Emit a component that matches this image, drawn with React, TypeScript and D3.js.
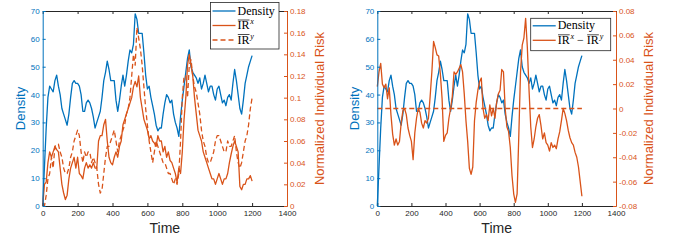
import React, { useEffect, useRef } from 'react';
import * as d3 from 'd3';

// sample times (every 10 steps)
const time = d3.range(0, 1201, 10);

const density = [
  0, 14, 28, 39, 43, 42, 41, 45, 47, 43,
  40, 35, 33, 31, 29, 33, 39, 44, 45, 44,
  44, 43, 40, 34, 34, 37, 38, 37, 35, 32,
  28, 30, 32, 34, 39, 45, 48, 52, 49, 45,
  45, 45, 38, 34, 38, 43, 47, 43, 47, 52,
  56, 55, 58, 69, 67, 62, 62, 62, 55, 47,
  42, 43, 39, 36, 33, 29, 27, 28, 28, 33,
  37, 40, 39, 37, 38, 33, 30, 28, 25, 32,
  38, 43, 48, 53, 56, 50, 48, 47, 46, 44,
  46, 42, 44, 47, 44, 41, 43, 43, 40, 38,
  42, 43, 40, 37, 38, 36, 39, 40, 38, 44,
  49, 45, 40, 35, 33, 38, 44, 47, 50, 52,
  54,
];

const irX = [
  0, 0.02, 0.022, 0.04, 0.05, 0.045, 0.05, 0.055, 0.052, 0.05,
  0.035, 0.02, 0.012, 0.006, 0.01, 0.025, 0.035, 0.04, 0.045, 0.035,
  0.045, 0.03, 0.028, 0.025, 0.035, 0.04, 0.035, 0.038, 0.035, 0.04,
  0.035, 0.035, 0.06, 0.065, 0.065, 0.075, 0.08, 0.06, 0.045, 0.04,
  0.038, 0.045, 0.05, 0.045, 0.055, 0.06, 0.075, 0.08, 0.085, 0.09,
  0.095, 0.1, 0.11, 0.115, 0.11, 0.12, 0.1, 0.09, 0.08, 0.075,
  0.07, 0.062, 0.065, 0.06, 0.058, 0.055, 0.065, 0.06, 0.06, 0.05,
  0.055, 0.045, 0.05, 0.042, 0.04, 0.035, 0.03, 0.022, 0.035, 0.03,
  0.05, 0.08, 0.1, 0.13, 0.14, 0.13, 0.12, 0.1, 0.085, 0.07,
  0.065, 0.06, 0.05, 0.045, 0.04, 0.035, 0.03, 0.025, 0.025, 0.02,
  0.025, 0.03, 0.025, 0.02, 0.025, 0.025, 0.03, 0.04, 0.048, 0.055,
  0.06, 0.055, 0.05, 0.018, 0.015, 0.02, 0.02, 0.025, 0.025, 0.028,
  0.023,
];

const irY = [
  0, 0, 0.01, 0.025, 0.03, 0.045, 0.035, 0.055, 0.057, 0.057,
  0.05, 0.045, 0.035, 0.03, 0.03, 0.035, 0.045, 0.05, 0.06, 0.065,
  0.07, 0.065, 0.05, 0.04, 0.05, 0.045, 0.05, 0.05, 0.04, 0.045,
  0.04, 0.035, 0.02, 0.012, 0.015, 0.03, 0.045, 0.055, 0.055, 0.06,
  0.065, 0.07, 0.06, 0.05, 0.06, 0.065, 0.07, 0.075, 0.085, 0.09,
  0.1, 0.12, 0.14, 0.13, 0.165, 0.155, 0.145, 0.13, 0.11, 0.09,
  0.075, 0.06, 0.05, 0.04, 0.05, 0.06, 0.055, 0.05, 0.045, 0.04,
  0.04, 0.035, 0.03, 0.03, 0.025, 0.02, 0.025, 0.02, 0.03, 0.06,
  0.1, 0.12, 0.12, 0.1, 0.13, 0.135, 0.12, 0.11, 0.105, 0.095,
  0.085, 0.07, 0.06, 0.055, 0.045, 0.04, 0.04, 0.045, 0.05, 0.06,
  0.065, 0.065, 0.06, 0.055, 0.05, 0.05, 0.06, 0.055, 0.055, 0.06,
  0.065, 0.05, 0.04, 0.035, 0.04, 0.05, 0.06, 0.065, 0.075, 0.09,
  0.1,
];

const irDiff = [
  0.018, 0.03, 0.037, 0.02, 0.017, 0.02, 0.008, 0.017, -0.005, -0.021,
  -0.03, -0.025, -0.03, -0.027, -0.012, -0.002, 0, -0.005, -0.016, -0.022,
  -0.027, -0.042, -0.02, -0.008, 0, -0.003, -0.012, -0.016, -0.01, -0.012,
  -0.008, 0.01, 0.03, 0.055, 0.05, 0.044, 0.043, 0.028, 0.008, -0.027,
  -0.022, -0.02, -0.008, 0, 0.01, 0.03, 0.028, 0.03, 0.033, 0.036,
  0.03, 0.012, -0.01, -0.027, -0.049, -0.054, -0.048, -0.01, 0.005, 0.015,
  0.022, 0.025, 0, -0.008, -0.005, -0.01, 0.003, -0.006, 0, -0.008,
  0.005, 0.012, 0.015, 0.032, 0.03, 0, -0.015, -0.019, -0.032, -0.055,
  -0.07, -0.077, -0.07, -0.022, 0.03, 0.052, 0.058, 0.074, 0.05, 0.015,
  -0.015, -0.032, -0.025, -0.015, -0.008, -0.005, -0.014, -0.025, -0.02, -0.028,
  -0.03, -0.035, -0.028, -0.032, -0.03, -0.033, -0.025, -0.019, -0.01, 0,
  -0.004, -0.01, -0.018, -0.024, -0.028, -0.03, -0.036, -0.04, -0.048, -0.06,
  -0.072,
];

const zeroLine = [0, 0];
const zeroTimes = [0, 1200];

const xTicks = [0, 200, 400, 600, 800, 1000, 1200, 1400];
const densityTicks = [0, 10, 20, 30, 40, 50, 60, 70];
const riskTicksLeft = [0, 0.02, 0.04, 0.06, 0.08, 0.1, 0.12, 0.14, 0.16, 0.18];
const riskTicksRight = [-0.08, -0.06, -0.04, -0.02, 0, 0.02, 0.04, 0.06, 0.08];

const BLUE = '#0072BD';
const ORANGE = '#D95319';
const DARK = '#262626';
const SANS = '"Liberation Sans", Arial, Helvetica, sans-serif';
const SERIF = '"Liberation Serif", "Times New Roman", serif';
const TOP = 11;
const BOTTOM = 206;

const App = () => {
  const ref = useRef<SVGSVGElement>(null);

  useEffect(() => {
    const svg = d3.select(ref.current);
    svg.selectAll('*').remove();

    // draws a legend label made of parts, with overlines and superscripts
    const drawLabel = (g: any, x0: number, y: number, parts: any[]) => {
      let cx = x0;
      parts.forEach((p) => {
        const t = g.append('text').attr('x', cx).attr('y', y)
          .attr('font-family', SERIF).attr('font-size', 12).attr('fill', '#000')
          .attr('xml:space', 'preserve').text(p.text);
        const w = t.node().getComputedTextLength();
        if (p.over) {
          g.append('line').attr('x1', cx + 0.3).attr('x2', cx + w).attr('y1', y - 9).attr('y2', y - 9)
            .attr('stroke', '#000').attr('stroke-width', 0.7);
        }
        cx += w;
        if (p.sup) {
          const s = g.append('text').attr('x', cx + 0.8).attr('y', y - 5)
            .attr('font-family', SERIF).attr('font-size', 8).attr('font-style', 'italic')
            .attr('fill', '#000').text(p.sup);
          cx += s.node().getComputedTextLength() + 0.8;
        }
      });
    };

    const drawPanel = (cfg: any) => {
      const g = svg.append('g');
      const x = d3.scaleLinear().domain([0, 1400]).range([cfg.left, cfg.right]);
      const yL = d3.scaleLinear().domain([0, 70]).range([BOTTOM, TOP]);
      const yR = d3.scaleLinear().domain(cfg.riskDomain).range([BOTTOM, TOP]);

      const lineL = d3.line<number>().x((_, i) => x(time[i])).y((d) => yL(d));

      g.append('path').attr('d', lineL(density)).attr('fill', 'none')
        .attr('stroke', BLUE).attr('stroke-width', 1.3).attr('stroke-linejoin', 'round');

      cfg.riskSeries.forEach((s: any) => {
        const ts = s.times || time;
        const lineR = d3.line<number>().x((_, i) => x(ts[i])).y((d) => yR(d));
        g.append('path').attr('d', lineR(s.values)).attr('fill', 'none')
          .attr('stroke', ORANGE).attr('stroke-width', 1.3).attr('stroke-linejoin', 'round')
          .attr('stroke-dasharray', s.dash || null);
      });

      const styleAxis = (sel: any, color: string) => {
        sel.style('color', color).attr('font-family', SANS).attr('font-size', 8);
      };

      // bottom + top
      g.append('g').attr('transform', `translate(0,${BOTTOM})`)
        .call(d3.axisBottom(x).tickValues(xTicks).tickFormat((d: any) => String(d))
          .tickSizeInner(-3).tickSizeOuter(0).tickPadding(4))
        .call((s: any) => styleAxis(s, DARK));
      g.append('g').attr('transform', `translate(0,${TOP})`)
        .call(d3.axisTop(x).tickValues(xTicks).tickSizeInner(-3).tickSizeOuter(0).tickFormat(() => ''))
        .call((s: any) => styleAxis(s, DARK));

      // left (density) + right (risk)
      g.append('g').attr('transform', `translate(${cfg.left},0)`)
        .call(d3.axisLeft(yL).tickValues(densityTicks).tickSizeInner(-3).tickSizeOuter(0).tickPadding(3))
        .call((s: any) => styleAxis(s, BLUE));
      g.append('g').attr('transform', `translate(${cfg.right},0)`)
        .call(d3.axisRight(yR).tickValues(cfg.riskTicks).tickFormat((d: any) => String(d))
          .tickSizeInner(-3).tickSizeOuter(0).tickPadding(3))
        .call((s: any) => styleAxis(s, ORANGE));

      // axis titles
      g.append('text').attr('x', (cfg.left + cfg.right) / 2).attr('y', 233)
        .attr('text-anchor', 'middle').attr('font-family', SANS).attr('font-size', 14)
        .attr('fill', DARK).text('Time');
      g.append('text').attr('transform', `translate(${cfg.left - 18},${(TOP + BOTTOM) / 2}) rotate(-90)`)
        .attr('text-anchor', 'middle').attr('font-family', SANS).attr('font-size', 13)
        .attr('fill', BLUE).text('Density');
      g.append('text').attr('transform', `translate(${cfg.right + 37},${(TOP + BOTTOM) / 2}) rotate(-90)`)
        .attr('text-anchor', 'middle').attr('font-family', SANS).attr('font-size', 13)
        .attr('fill', ORANGE).text('Normalized Individual Risk');

      // legend
      const lg = svg.append('g');
      const b = cfg.legend;
      lg.append('rect').attr('x', b.x).attr('y', b.y).attr('width', b.w).attr('height', b.h)
        .attr('fill', '#fff').attr('stroke', DARK).attr('stroke-width', 0.8);
      cfg.legendItems.forEach((it: any, i: number) => {
        const ly = b.y + b.first + i * b.step;
        lg.append('line').attr('x1', b.x + 2).attr('x2', b.x + 25).attr('y1', ly).attr('y2', ly)
          .attr('stroke', it.color).attr('stroke-width', 1.3).attr('stroke-dasharray', it.dash || null);
        drawLabel(lg, b.x + 27, ly + 3.5, it.parts);
      });
    };

    drawPanel({
      left: 42.7,
      right: 287,
      riskDomain: [0, 0.18],
      riskTicks: riskTicksLeft,
      riskSeries: [{ values: irX }, { values: irY, dash: '5,3' }],
      legend: { x: 210.5, y: 2.5, w: 68.5, h: 46.5, first: 8.5, step: 14.5 },
      legendItems: [
        { color: BLUE, parts: [{ text: 'Density' }] },
        { color: ORANGE, parts: [{ text: 'IR', over: true, sup: 'x' }] },
        { color: ORANGE, dash: '5,3', parts: [{ text: 'IR', over: true, sup: 'y' }] },
      ],
    });

    drawPanel({
      left: 377.3,
      right: 616,
      riskDomain: [-0.08, 0.08],
      riskTicks: riskTicksRight,
      riskSeries: [{ values: irDiff }, { values: zeroLine, times: zeroTimes, dash: '5,3' }],
      legend: { x: 530.7, y: 18.3, w: 80, h: 32.4, first: 7.5, step: 14.5 },
      legendItems: [
        { color: BLUE, parts: [{ text: 'Density' }] },
        { color: ORANGE, parts: [{ text: 'IR', over: true, sup: 'x' }, { text: ' \u2212 ' }, { text: 'IR', over: true, sup: 'y' }] },
      ],
    });
  }, []);

  return (
    <svg ref={ref} width={676} height={242}
      style={{ position: 'absolute', left: 0, top: 0, background: '#fff' }} />
  );
};

export default App;
